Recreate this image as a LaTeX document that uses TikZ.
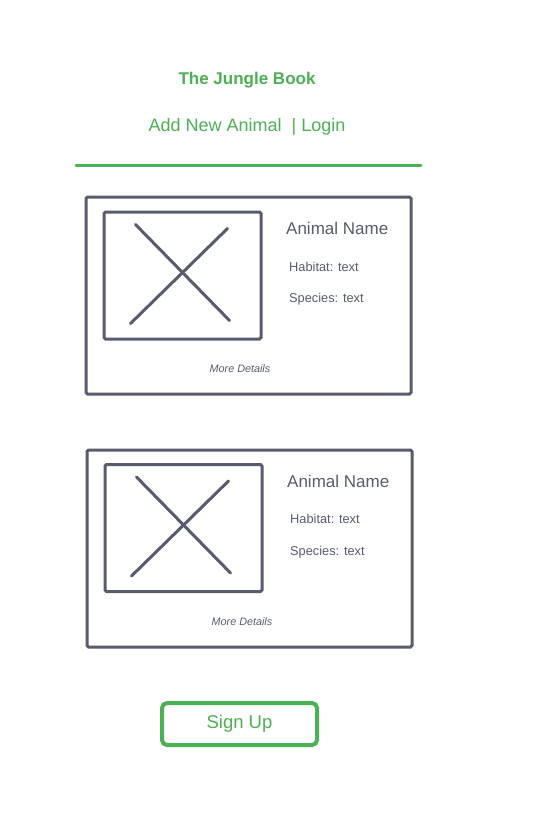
\documentclass[tikz,border=0pt]{standalone}
\usepackage{fontspec}
\setmainfont{Liberation Sans}
\usetikzlibrary{positioning}
\definecolor{jungle}{rgb}{0.30,0.69,0.33}
\definecolor{slate}{rgb}{0.34,0.36,0.43}

\begin{document}
\begin{tikzpicture}
    [x=1pt, y=-1pt,
    card/.style={draw=slate, line width=3pt, rounded corners=1.5pt, minimum width=325pt, minimum height=197pt, inner sep=0pt},
    photo/.style={draw=slate, line width=3pt, rounded corners=1.5pt, minimum width=157pt, minimum height=127pt, inner sep=0pt},
    cross/.style={draw=slate, line width=3pt, line cap=round},
    animal/.style={text=slate, anchor=west, inner sep=0pt, font=\fontsize{17}{20}\selectfont},
    field/.style={text=slate, anchor=west, inner sep=0pt, font=\fontsize{12.8}{15}\selectfont},
    more/.style={text=slate, inner sep=0pt, font=\fontsize{10.8}{13}\selectfont\itshape},
    button/.style={draw=jungle, text=jungle, line width=4pt, rounded corners=5pt, minimum width=155pt, minimum height=42pt, font=\fontsize{18.5}{22}\selectfont}]
    \useasboundingbox (0,0) rectangle (554,830);
    %\draw[step=50,gray,very thin] (0,0) grid (554,830);
    \node[text=jungle, font=\fontsize{17}{20}\selectfont\bfseries] (title) at (247, 80) {The Jungle Book};
    \node[text=jungle, font=\fontsize{18}{22}\selectfont] (menu) at (247, 127) {Add New Animal~~|~Login};
    \coordinate (ruleL) at (76, 165);
    \coordinate (ruleR) at (421, 165);
    \draw[jungle, line width=3pt, line cap=round] (ruleL) -- (ruleR);
    % first card
    \node[card]  (card1) at (248.5, 295.5) {};
    \node[photo] (img1) at (182.5, 275.5) {};
    \draw[cross] ([shift={(-47,-51)}]img1.center) -- ([shift={(47,45)}]img1.center);
    \draw[cross] ([shift={(-52,48)}]img1.center) -- ([shift={(45,-47)}]img1.center);
    \node[animal] (name1) at (286, 228) {Animal Name};
    \node[field]  (hab1) at (289, 267) {Habitat: text};
    \node[field]  (spe1) at (289, 299) {Species: text};
    \node[more]   (more1) at (240, 369) {More Details};
    % second card
    \node[card]  (card2) at (249.5, 548.5) {};
    \node[photo] (img2) at (183.5, 528) {};
    \draw[cross] ([shift={(-47,-51)}]img2.center) -- ([shift={(47,45)}]img2.center);
    \draw[cross] ([shift={(-52,48)}]img2.center) -- ([shift={(45,-47)}]img2.center);
    \node[animal] (name2) at (287, 481) {Animal Name};
    \node[field]  (hab2) at (290, 519) {Habitat: text};
    \node[field]  (spe2) at (290, 552) {Species: text};
    \node[more]   (more2) at (242, 622) {More Details};
    % button
    \node[button] (signup) at (239.5, 724) {Sign Up};
\end{tikzpicture}
\end{document}
